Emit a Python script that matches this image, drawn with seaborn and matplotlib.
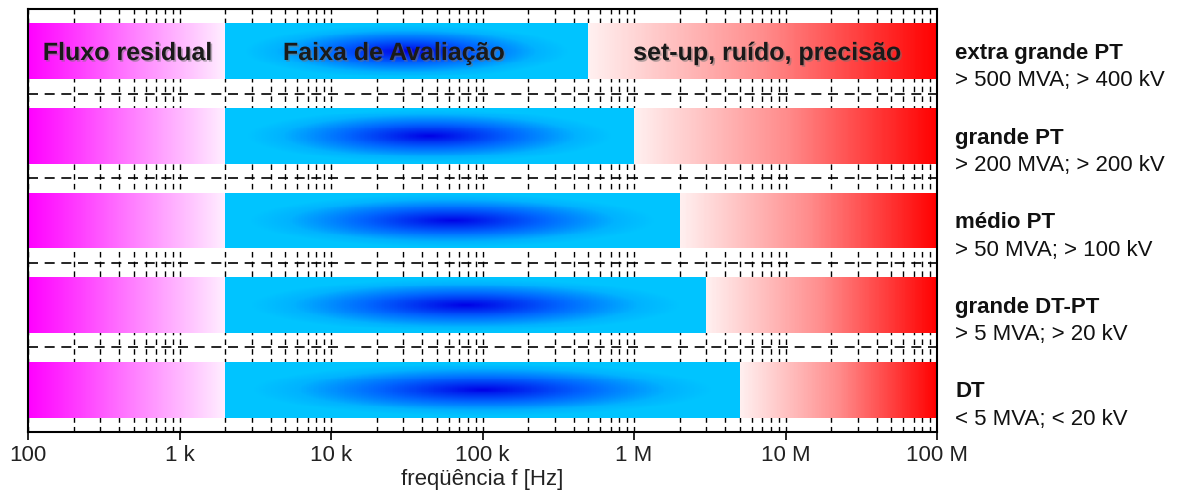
import numpy as np
import matplotlib
matplotlib.use("Agg")
import matplotlib.pyplot as plt
import matplotlib.patheffects as pe
from matplotlib.colors import LinearSegmentedColormap
import seaborn as sns

# ---------------- data ----------------
categories = ["extra grande PT", "grande PT", "médio PT", "grande DT-PT", "DT"]
ratings = ["> 500 MVA; > 400 kV", "> 200 MVA; > 200 kV", "> 50 MVA; > 100 kV",
           "> 5 MVA; > 20 kV", "< 5 MVA; < 20 kV"]
f_start = [100, 100, 100, 100, 100]            # start of residual-flux band (Hz)
f_low = [2e3, 2e3, 2e3, 2e3, 2e3]              # start of evaluation band (Hz)
f_high = [5e5, 1e6, 2e6, 3e6, 5e6]             # end of evaluation band (Hz)
f_end = [1e8, 1e8, 1e8, 1e8, 1e8]              # end of set-up/noise band (Hz)
band_labels = ["Fluxo residual", "Faixa de Avaliação", "set-up, ruído, precisão"]
band_label_x = [454, 2.6e4, 7.6e6]             # label anchor frequencies in row 1
tick_values = [1e2, 1e3, 1e4, 1e5, 1e6, 1e7, 1e8]
tick_labels = ["100", "1 k", "10 k", "100 k", "1 M", "10 M", "100 M"]
xlabel = "freqüência f [Hz]"

# ---------------- style ----------------
sns.set_theme(style="white")
plt.rcParams["font.family"] = ["Liberation Sans", "DejaVu Sans"]

fig = plt.figure(figsize=(11.84, 4.95), dpi=100)
ax = fig.add_axes([28 / 1184, 63 / 495, (937 - 28) / 1184, (432 - 9) / 495])
ax.set_xscale("log")
ax.set_xlim(1e2, 1e8)
ax.set_ylim(len(categories) - 0.5, -0.5)

cm_mag = LinearSegmentedColormap.from_list("mag", [(1.0, 0.0, 1.0), (1.0, 0.93, 1.0)])
cm_red = LinearSegmentedColormap.from_list("red", [(1.0, 0.94, 0.94), (1.0, 0.55, 0.55), (1.0, 0.0, 0.0)])
cm_blue = LinearSegmentedColormap.from_list(
    "blu", [(0.0, (0.0, 0.0, 0.90)), (0.45, (0.0, 0.40, 1.0)), (0.8, (0.0, 0.70, 1.0)), (1.0, (0.0, 0.77, 1.0))])

h = 0.66
nx, ny = 300, 60
for i in range(len(categories)):
    y0, y1 = i - h / 2, i + h / 2
    yedges = np.linspace(y0, y1, ny + 1)
    yc = 0.5 * (yedges[:-1] + yedges[1:])
    # magenta
    xe = np.geomspace(f_start[i], f_low[i], nx + 1)
    xc = np.sqrt(xe[:-1] * xe[1:])
    u = (np.log10(xc) - np.log10(f_start[i])) / (np.log10(f_low[i]) - np.log10(f_start[i]))
    C = np.tile(u, (ny, 1))
    ax.pcolormesh(xe, yedges, C, cmap=cm_mag, vmin=0, vmax=1, shading="flat", zorder=2, antialiased=False)
    # blue
    xe = np.geomspace(f_low[i], f_high[i], nx + 1)
    xc = np.sqrt(xe[:-1] * xe[1:])
    lo, hi = np.log10(f_low[i]), np.log10(f_high[i])
    dx = (np.log10(xc) - (lo + hi) / 2) / ((hi - lo) / 2)
    dy = (yc - i) / (h / 2)
    DX, DY = np.meshgrid(dx, dy)
    T = np.clip(np.sqrt((DX / 0.9) ** 2 + (DY / 0.95) ** 2), 0, 1)
    ax.pcolormesh(xe, yedges, T, cmap=cm_blue, vmin=0, vmax=1, shading="flat", zorder=2, antialiased=False)
    # red
    xe = np.geomspace(f_high[i], f_end[i], nx + 1)
    xc = np.sqrt(xe[:-1] * xe[1:])
    u = (np.log10(xc) - np.log10(f_high[i])) / (np.log10(f_end[i]) - np.log10(f_high[i]))
    C = np.tile(u, (ny, 1))
    ax.pcolormesh(xe, yedges, C, cmap=cm_red, vmin=0, vmax=1, shading="flat", zorder=2, antialiased=False)

    # right labels
    ax.text(1.02, 1 - (i + 0.5) / len(categories) - 0.005, categories[i], transform=ax.transAxes,
            fontsize=16, fontweight="bold", color="#111111", ha="left", va="center")
    ax.text(1.02, 1 - (i + 0.5) / len(categories) - 0.07, ratings[i], transform=ax.transAxes,
            fontsize=16, color="#111111", ha="left", va="center")

# band labels on first row
shadow = [pe.withSimplePatchShadow(offset=(1.2, -1.2), shadow_rgbFace=(0.45, 0.45, 0.45), alpha=0.5)]
for lab, xpos in zip(band_labels, band_label_x):
    ax.text(xpos, 0.02, lab, fontsize=18, fontweight="bold", color="#1a1a1a",
            ha="center", va="center", zorder=5, path_effects=shadow)

# grid
ax.set_axisbelow(True)
ax.xaxis.grid(True, which="both", color="black", linestyle=(0, (4, 3)), linewidth=1.0)
for k in range(len(categories) - 1):
    ax.axhline(k + 0.5, color="black", linestyle=(0, (6, 4)), linewidth=1.2, zorder=1)

ax.set_xticks(tick_values)
ax.set_xticklabels(tick_labels, fontsize=16, color="#222222")
ax.tick_params(axis="x", which="major", direction="out", length=6, width=1.2, color="black", bottom=True)
ax.tick_params(axis="x", which="minor", length=0)
ax.set_yticks([])
ax.set_xlabel(xlabel, fontsize=16, color="#222222", labelpad=2)
for s in ax.spines.values():
    s.set_color("black")
    s.set_linewidth(1.5)

fig.savefig("out.png", dpi=100)
